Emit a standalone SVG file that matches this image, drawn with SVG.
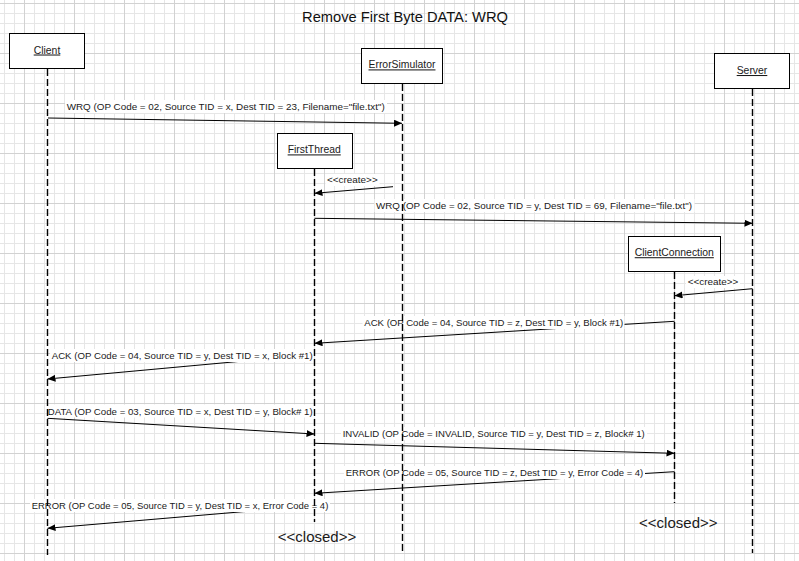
<svg xmlns="http://www.w3.org/2000/svg" width="799" height="561" viewBox="0 0 799 561">
<style>
.box{fill:#fff;stroke:#000;stroke-width:1}
.life{fill:none;stroke:#000;stroke-width:1.4;stroke-dasharray:7 3}
.msg{fill:none;stroke:#000;stroke-width:1;marker-end:url(#arr)}
.lbl{font-family:"Liberation Sans",Arial,sans-serif;font-size:9.5px;fill:#1a1a1a}
.lblbg{fill:#fff}
.name{font-family:"Liberation Sans",Arial,sans-serif;font-size:10.4px;fill:#1a1a1a;text-anchor:middle;text-decoration:underline}
.closed{font-family:"Liberation Sans",Arial,sans-serif;font-size:15px;fill:#1a1a1a;text-anchor:middle}
.title{font-family:"Liberation Sans",Arial,sans-serif;font-size:14.7px;fill:#111;text-anchor:middle}
</style>
<defs>
<pattern id="minor" patternUnits="userSpaceOnUse" x="4" y="3" width="10" height="10">
<rect x="0" y="0" width="1" height="10" fill="#e6e6e6"/>
<rect x="0" y="0" width="10" height="1" fill="#e6e6e6"/>
</pattern>
<pattern id="major" patternUnits="userSpaceOnUse" x="24" y="3" width="50" height="50">
<rect x="0" y="0" width="1" height="50" fill="#d2d2d2"/>
<rect x="0" y="0" width="50" height="1" fill="#d2d2d2"/>
</pattern>
<marker id="arr" markerUnits="userSpaceOnUse" markerWidth="9" markerHeight="8" refX="8" refY="3.5" orient="auto">
<path d="M0,0 L8,3.5 L0,7 z" fill="#000"/>
</marker>
</defs>
<rect x="0" y="0" width="799" height="561" fill="#fff"/>
<rect x="0" y="0" width="799" height="561" fill="url(#minor)"/>
<rect x="0" y="0" width="799" height="561" fill="url(#major)"/>
<text class="title" x="405" y="22">Remove First Byte DATA: WRQ</text>
<g id="connectors">
<line class="msg" x1="48" y1="118" x2="402" y2="123.3"/>
<line class="msg" x1="393" y1="186.7" x2="314.5" y2="193.3"/>
<line class="msg" x1="314.5" y1="218.3" x2="752.5" y2="223.3"/>
<line class="msg" x1="752.5" y1="288.7" x2="674.5" y2="295.7"/>
<line class="msg" x1="674.5" y1="321.3" x2="314.5" y2="343.3"/>
<line class="msg" x1="314.5" y1="354.5" x2="47.5" y2="379"/>
<line class="msg" x1="47.5" y1="418.3" x2="314.5" y2="434"/>
<line class="msg" x1="314.5" y1="443.3" x2="674.5" y2="453.3"/>
<line class="msg" x1="674.5" y1="471.7" x2="314.5" y2="493.3"/>
<line class="msg" x1="314.5" y1="505.6" x2="47.5" y2="528.3"/>
<rect class="lblbg" x="65" y="100" width="322" height="13"/>
<text class="lbl" x="66.7" y="110" textLength="318" lengthAdjust="spacingAndGlyphs">WRQ (OP Code = 02, Source TID = x, Dest TID = 23, Filename="file.txt")</text>
<rect class="lblbg" x="325.5" y="174" width="54" height="12"/>
<text class="lbl" x="327" y="183.3" textLength="50.7" lengthAdjust="spacingAndGlyphs">&lt;&lt;create&gt;&gt;</text>
<rect class="lblbg" x="374.5" y="199" width="320" height="13"/>
<text class="lbl" x="376" y="209" textLength="316" lengthAdjust="spacingAndGlyphs">WRQ (OP Code = 02, Source TID = y, Dest TID = 69, Filename="file.txt")</text>
<rect class="lblbg" x="686" y="276" width="54" height="12"/>
<text class="lbl" x="687.7" y="285" textLength="50.6" lengthAdjust="spacingAndGlyphs">&lt;&lt;create&gt;&gt;</text>
<rect class="lblbg" x="362.5" y="316" width="262" height="13"/>
<text class="lbl" x="364.3" y="326" textLength="259" lengthAdjust="spacingAndGlyphs">ACK (OP Code = 04, Source TID = z, Dest TID = y, Block #1)</text>
<rect class="lblbg" x="50" y="349" width="264" height="13"/>
<text class="lbl" x="51.7" y="359" textLength="261" lengthAdjust="spacingAndGlyphs">ACK (OP Code = 04, Source TID = y, Dest TID = x, Block #1)</text>
<rect class="lblbg" x="47" y="404.5" width="268" height="13"/>
<text class="lbl" x="47.7" y="414.5" textLength="265" lengthAdjust="spacingAndGlyphs">DATA (OP Code = 03, Source TID = x, Dest TID = y, Block# 1)</text>
<rect class="lblbg" x="341" y="427" width="306" height="13"/>
<text class="lbl" x="342.7" y="437" textLength="302" lengthAdjust="spacingAndGlyphs">INVALID (OP Code = INVALID, Source TID = y, Dest TID = z, Block# 1)</text>
<rect class="lblbg" x="344" y="466" width="301" height="13"/>
<text class="lbl" x="345.7" y="475.7" textLength="297.6" lengthAdjust="spacingAndGlyphs">ERROR (OP Code = 05, Source TID = z, Dest TID = y, Error Code = 4)</text>
<rect class="lblbg" x="30" y="499" width="300" height="13"/>
<text class="lbl" x="31.7" y="509" textLength="296.6" lengthAdjust="spacingAndGlyphs">ERROR (OP Code = 05, Source TID = y, Dest TID = x, Error Code = 4)</text>
</g>
<g id="client">
<line class="life" x1="47.5" y1="69" x2="47.5" y2="555"/>
<rect class="box" x="9.5" y="33.5" width="75" height="35"/>
<text class="name" x="47" y="53.5">Client</text>
</g>
<g id="errorsimulator">
<line class="life" x1="402.5" y1="84" x2="402.5" y2="553"/>
<rect class="box" x="361.5" y="48.5" width="81" height="35"/>
<text class="name" x="402" y="68.4">ErrorSimulator</text>
</g>
<g id="server">
<line class="life" x1="752.5" y1="89" x2="752.5" y2="553"/>
<rect class="box" x="714.5" y="53.5" width="75" height="35"/>
<text class="name" x="752" y="74">Server</text>
</g>
<g id="firstthread">
<line class="life" x1="314.5" y1="169" x2="314.5" y2="522"/>
<rect class="box" x="277.5" y="133.5" width="75" height="35"/>
<text class="name" x="314.2" y="153.4">FirstThread</text>
<text class="closed" x="317" y="541.5">&lt;&lt;closed&gt;&gt;</text>
</g>
<g id="clientconnection">
<line class="life" x1="674.5" y1="272" x2="674.5" y2="503"/>
<rect class="box" x="628.5" y="236.5" width="92" height="35"/>
<text class="name" x="674.3" y="256.2">ClientConnection</text>
<text class="closed" x="678.3" y="527.5">&lt;&lt;closed&gt;&gt;</text>
</g>
</svg>
